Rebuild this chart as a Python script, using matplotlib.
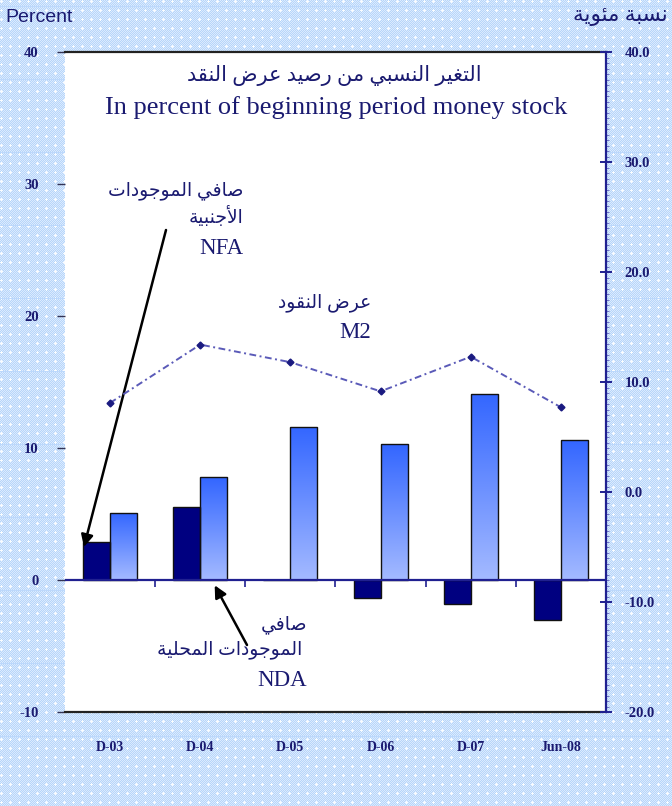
import numpy as np
import matplotlib
matplotlib.use("Agg")
import matplotlib.pyplot as plt
from matplotlib.colors import LinearSegmentedColormap
from matplotlib.ticker import MultipleLocator, FormatStrFormatter

plt.rcParams['axes.unicode_minus'] = False

# ---------------- data ----------------
categories = ["D-03", "D-04", "D-05", "D-06", "D-07", "Jun-08"]
nfa = [2.9, 5.5, 0.0, -1.35, -1.8, -3.0]        # dark bars (left axis)
nda = [5.1, 7.8, 11.6, 10.3, 14.1, 10.6]        # light bars (left axis)
m2 = [8.1, 13.4, 11.8, 9.15, 12.3, 7.7]         # line (right axis)
left_ticks = [-10, 0, 10, 20, 30, 40]
right_ticks = [-20, -10, 0, 10, 20, 30, 40]

title_ar = "التغير النسبي من رصيد عرض النقد"
title_en = "In percent of beginning period money stock"
ylabel_left = "Percent"
ylabel_right = "نسبة مئوية"
nfa_ar = ["صافي الموجودات", "الأجنبية"]
nfa_en = "NFA"
m2_ar = "عرض النقود"
m2_en = "M2"
nda_ar = ["صافي", "الموجودات المحلية"]
nda_en = "NDA"

# ---------------- minimal Arabic shaping ----------------
FORMS = {
    '\u0627': (0xFE8D, 0xFE8E), '\u0623': (0xFE83, 0xFE84), '\u0629': (0xFE93, 0xFE94),
    '\u062F': (0xFEA9, 0xFEAA), '\u0631': (0xFEAD, 0xFEAE), '\u0648': (0xFEED, 0xFEEE),
    '\u0628': (0xFE8F, 0xFE90, 0xFE91, 0xFE92), '\u062A': (0xFE95, 0xFE96, 0xFE97, 0xFE98),
    '\u062C': (0xFE9D, 0xFE9E, 0xFE9F, 0xFEA0), '\u062D': (0xFEA1, 0xFEA2, 0xFEA3, 0xFEA4),
    '\u0633': (0xFEB1, 0xFEB2, 0xFEB3, 0xFEB4), '\u0635': (0xFEB9, 0xFEBA, 0xFEBB, 0xFEBC),
    '\u0636': (0xFEBD, 0xFEBE, 0xFEBF, 0xFEC0), '\u0639': (0xFEC9, 0xFECA, 0xFECB, 0xFECC),
    '\u063A': (0xFECD, 0xFECE, 0xFECF, 0xFED0), '\u0641': (0xFED1, 0xFED2, 0xFED3, 0xFED4),
    '\u0642': (0xFED5, 0xFED6, 0xFED7, 0xFED8), '\u0644': (0xFEDD, 0xFEDE, 0xFEDF, 0xFEE0),
    '\u0645': (0xFEE1, 0xFEE2, 0xFEE3, 0xFEE4), '\u0646': (0xFEE5, 0xFEE6, 0xFEE7, 0xFEE8),
    '\u064A': (0xFEF1, 0xFEF2, 0xFEF3, 0xFEF4), '\u0626': (0xFE89, 0xFE8A, 0xFE8B, 0xFE8C),
}
LAMALEF = {'\u0627': (0xFEFB, 0xFEFC), '\u0623': (0xFEF7, 0xFEF8)}


def shape(s):
    out = []
    i = 0
    n = len(s)
    while i < n:
        c = s[i]
        if c not in FORMS:
            out.append(c)
            i += 1
            continue
        prev = s[i - 1] if i > 0 else None
        pc = prev in FORMS and len(FORMS[prev]) == 4
        if c == '\u0644' and i + 1 < n and s[i + 1] in LAMALEF:
            f = LAMALEF[s[i + 1]]
            out.append(chr(f[1] if pc else f[0]))
            i += 2
            continue
        f = FORMS[c]
        nxt = s[i + 1] if i + 1 < n else None
        nc = len(f) == 4 and nxt in FORMS
        if len(f) == 2:
            out.append(chr(f[1] if pc else f[0]))
        else:
            if pc and nc:
                out.append(chr(f[3]))
            elif pc:
                out.append(chr(f[1]))
            elif nc:
                out.append(chr(f[2]))
            else:
                out.append(chr(f[0]))
        i += 1
    return ''.join(reversed(out))


# ---------------- figure ----------------
W, H = 672, 806
fig = plt.figure(figsize=(W / 100, H / 100), dpi=100)

# textured light-blue background
ii, jj = np.mgrid[0:H, 0:W]
c1 = np.array([0.86, 0.92, 1.0])
c2 = np.array([0.72, 0.84, 0.98])
img = np.where(((ii + jj) % 2 == 0)[..., None], c1, c2)
dots = ((ii % 9) < 3) & ((jj % 9) < 3) & ~(((ii % 9) != 1) & ((jj % 9) != 1))
img[dots] = [0.98, 0.99, 1.0]
img[(ii % 73) == 6] = [0.74, 0.85, 0.99]
bg = fig.add_axes([0, 0, 1, 1], zorder=-10)
bg.imshow(img, aspect='auto', interpolation='nearest')
bg.axis('off')


def fx(px):
    return px / W


def fy(py):
    return 1 - py / H


NAVY = '#1a1a70'
ax = fig.add_axes([fx(65), fy(712), (606 - 65) / W, (712 - 52) / H])
ax.set_facecolor('white')

x = np.arange(len(categories))
bw = 0.3
dark = ax.bar(x - bw / 2, nfa, width=bw, color='#000080', edgecolor='#111111', linewidth=1.0, zorder=3)
light = ax.bar(x + bw / 2, nda, width=bw, facecolor='none', edgecolor='#111111', linewidth=1.0, zorder=3)
cmap = LinearSegmentedColormap.from_list('g', ['#a4baff', '#3366ff'])
grad = np.linspace(0, 1, 256).reshape(-1, 1)
for p in light:
    x0, y0, w, h = p.get_x(), p.get_y(), p.get_width(), p.get_height()
    im = ax.imshow(grad, extent=[x0, x0 + w, y0, y0 + h], origin='lower', cmap=cmap,
                   aspect='auto', zorder=2.5, interpolation='bilinear')
    im.set_clip_path(p)

ax.set_xlim(-0.5, len(categories) - 0.5)
ax.set_ylim(left_ticks[0], left_ticks[-1])
ax.axhline(0, color='#202090', lw=1.6, zorder=4)
ax.plot(x[:-1] + 0.5, np.zeros(len(x) - 1), ls='none', marker=3, ms=5, mew=1.2,
        color='#202090', zorder=4)

for s in ['left', 'right']:
    ax.spines[s].set_visible(False)
for s in ['top', 'bottom']:
    ax.spines[s].set_color('#222222')
    ax.spines[s].set_linewidth(1.6)

ax.set_yticks(left_ticks)
ax.set_yticklabels([str(t) for t in left_ticks])
ax.tick_params(axis='y', direction='out', length=6, width=1.0, color='#333355', pad=13,
               labelsize=10.5, labelcolor=NAVY)
ax.set_xticks(x)
ax.set_xticklabels(categories)
ax.tick_params(axis='x', length=0, pad=21, labelsize=10, labelcolor=NAVY)
for lab in ax.get_xticklabels() + ax.get_yticklabels():
    lab.set_family('Liberation Serif')
    lab.set_fontweight('bold')

ax2 = ax.twinx()
ax2.plot(x, m2, color='#5a5ab8', lw=1.4, ls=(0, (3.5, 1.8, 1, 1.8)), marker='D', ms=3.5,
         mfc='#1a1a80', mec='#1a1a80', zorder=5)
ax2.set_ylim(right_ticks[0], right_ticks[-1])
ax2.set_yticks(right_ticks)
ax2.yaxis.set_major_formatter(FormatStrFormatter('%.1f'))
ax2.yaxis.set_minor_locator(MultipleLocator(0.5))
for s in ['left', 'top', 'bottom']:
    ax2.spines[s].set_visible(False)
ax2.spines['right'].set_color('#202090')
ax2.spines['right'].set_linewidth(1.6)
ax2.tick_params(axis='y', which='major', direction='inout', length=9, width=1.4, color='#202090',
                pad=9, labelsize=10.5, labelcolor=NAVY)
ax2.tick_params(axis='y', which='minor', direction='out', length=2.5, width=0.6, color='#6060c0')
for lab in ax2.get_yticklabels():
    lab.set_family('Liberation Serif')
    lab.set_fontweight('bold')

AR = ['Liberation Serif', 'DejaVu Sans']

fig.text(fx(5), fy(18), ylabel_left, family='Liberation Sans', fontsize=14, color=NAVY,
         ha='left', va='center')
fig.text(fx(668), fy(16), shape(ylabel_right), family=AR, fontsize=15.5, color=NAVY,
         ha='right', va='center')

fig.text(fx(334), fy(75), shape(title_ar), family=AR, fontsize=15, color=NAVY,
         ha='center', va='center')
fig.text(fx(336), fy(108), title_en, family='Liberation Serif', fontsize=19, color=NAVY,
         ha='center', va='center')

fig.text(fx(243), fy(191), shape(nfa_ar[0]), family=AR, fontsize=13.5, color=NAVY, ha='right', va='center')
fig.text(fx(243), fy(217), shape(nfa_ar[1]), family=AR, fontsize=13.5, color=NAVY, ha='right', va='center')
fig.text(fx(243), fy(249), nfa_en, family='Liberation Serif', fontsize=16.5, color=NAVY, ha='right', va='center')

fig.text(fx(371), fy(303), shape(m2_ar), family=AR, fontsize=13.5, color=NAVY, ha='right', va='center')
fig.text(fx(371), fy(332), m2_en, family='Liberation Serif', fontsize=16.5, color=NAVY, ha='right', va='center')

fig.text(fx(307), fy(625), shape(nda_ar[0]), family=AR, fontsize=13.5, color=NAVY, ha='right', va='center')
fig.text(fx(302), fy(650), shape(nda_ar[1]), family=AR, fontsize=13.5, color=NAVY, ha='right', va='center')
fig.text(fx(307), fy(680), nda_en, family='Liberation Serif', fontsize=16.5, color=NAVY, ha='right', va='center')

arrow = dict(arrowstyle='-|>', color='black', lw=1.8, mutation_scale=18, shrinkA=0, shrinkB=0)
ax2.annotate('', xy=(x[0] - bw + 0.01, nfa[0] - 0.4), xycoords=ax.transData,
             xytext=(fx(166), fy(230)), textcoords='figure fraction', arrowprops=arrow)
ax2.annotate('', xy=(x[1] + 0.16, -0.4), xycoords=ax.transData,
             xytext=(fx(247), fy(645)), textcoords='figure fraction', arrowprops=arrow)

fig.savefig('out.png', dpi=100)
